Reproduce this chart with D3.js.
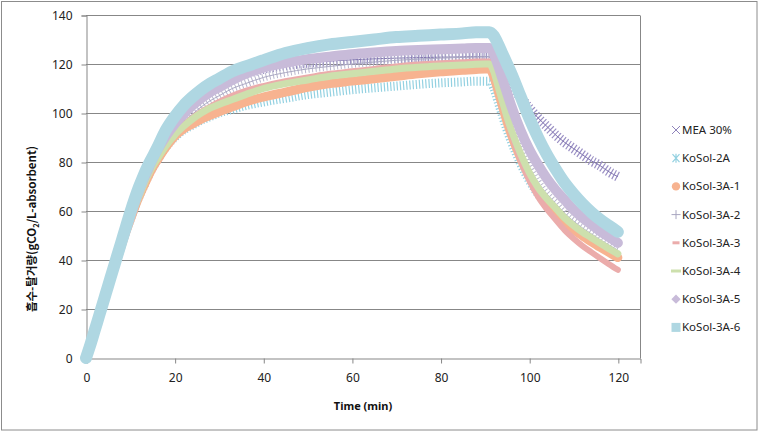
<!DOCTYPE html>
<html><head><meta charset="utf-8">
<script src="https://cdn.jsdelivr.net/npm/d3@7"></script>
<style>body{margin:0;background:#fff}svg{display:block}text{font-family:"Noto Sans","DejaVu Sans",sans-serif}</style>
</head><body><svg id="c" width="759" height="432"></svg>
<script>
const times = [0,1,2,3,4,5,6,7,8,9,10,11,12,13,14,15,16,18,20,22,24,26,28,30,33,36,40,45,50,55,60,65,70,75,80,85,88,90,
  91,92,93,94,95,96,98,100,102,104,106,108,110,112,114,116,118,120];
const mea30 = [0,5.5,11.5,17.5,23.5,29.5,35.5,41.5,47,52.5,58,63,68,72.5,77,81,84.5,90.5,95.5,100,104,107,109.5,111.5,114,116,118,119.5,120.5,121.2,121.7,122.1,122.4,122.6,122.8,122.9,123,123,
  123,121.5,119,116.5,114,111.5,106.5,102,98,94.5,91,88,85.5,83,80.5,78.5,76,74];
const kosol2A = [0,5.5,11.5,17.5,23.5,29.5,35,40.5,46,51.5,56.5,61.5,66,70,74,77.5,80.5,86,90,93,95,97,98.5,100,101.5,103,104.5,106,107.5,108.5,109.5,110.3,111,111.7,112.3,112.7,113,113,
  113,110.2,104.5,98.8,93.1,88.2,79.6,72.5,66.9,62.6,59,55.5,52.7,50.2,48,45.9,43.9,42];
const kosol3A1 = [0,5.5,11.5,17.5,23.5,29.5,35,40.5,46,51.5,56.5,61.5,66,70,74,77.5,80.5,86,90.5,93.5,95.5,97.5,99,100.5,102.5,104.5,106.5,108.5,110.5,112,113,114,115,116,116.8,117.4,117.8,118,
  118,114.9,108.8,102.6,96.4,91.1,81.8,74.1,68,63.3,59.5,55.6,52.5,49.9,47.5,45.2,43.1,41];
const kosol3A2 = [0,5.5,11.5,17.5,23.5,29.5,35.5,41,46.5,52,57,62,67,71.5,75.5,79,82.5,88,93,96.5,99.5,102.5,105,107,110,112,114.5,116.5,118,119,120,120.8,121.5,122,122.4,122.7,122.9,123,
  123,119.8,113.5,107.2,100.9,95.4,85.9,78,71.7,66.9,63,59,55.9,53.1,50.7,48.3,46.1,44];
const kosol3A3 = [0,5.5,11.5,17.5,23.5,29.5,35,40.5,46,51.5,56.5,61.5,66.5,71,75,78.5,81.5,87,91.5,95,98,100.5,102.5,104.5,107,109,111,113,114.5,116,117,118,119,119.8,120.3,120.7,121,121,
  121,117.6,110.8,104,97.2,91.3,81.1,72.6,65.8,60.7,56.4,52.2,48.8,45.8,43.2,40.7,38.3,36];
const kosol3A4 = [0,5.5,11.5,17.5,23.5,29.5,35,40.5,46,51.5,56.5,61.5,66,70.5,74.5,78,81,86.5,91,94.5,97.5,100,102,103.5,105.5,107.5,110,112,113.5,115,116,117,118,118.7,119.2,119.6,119.9,120,
  120,116.9,110.7,104.5,98.3,92.9,83.6,75.8,69.6,65,61.1,57.2,54.1,51.4,49.1,46.8,44.6,42.5];
const kosol3A5 = [0,5.5,11.5,17.5,23.5,29.5,35.5,41.5,47,52.5,58,63.5,68.5,73,77,81,84.5,90.5,95.5,99.5,103,106,108.5,110.5,113.5,116,118.5,120.5,122,123,124,124.7,125.3,125.7,126,126.3,126.5,126.5,
  126.5,124.1,119.3,113.8,108.2,102.7,93.1,85.2,78.8,73.2,68.5,64.5,60.5,57.3,54.5,51.8,49.4,47];
const kosol3A6 = [0,5.5,11.5,17.5,23.5,29.5,35.5,41.5,47.5,53.5,59.5,65,70,74.5,78.5,82,85.5,93,98.5,103,106.5,109.5,112,114,117,119,121.5,124.5,126.5,128,129,130,131,131.5,132,132.5,133,133,
  133,131.5,128,124,120,116,107,98,90,83,77,71.5,67,63,59.5,56.5,54,51.5];
const seriesNames = ["MEA 30%","KoSol-2A","KoSol-3A-1","KoSol-3A-2","KoSol-3A-3","KoSol-3A-4","KoSol-3A-5","KoSol-3A-6"];
const seriesValues = [mea30,kosol2A,kosol3A1,kosol3A2,kosol3A3,kosol3A4,kosol3A5,kosol3A6];
const xTicks = [0,20,40,60,80,100,120];
const yTicks = [0,20,40,60,80,100,120,140];
const xTitle = "Time (min)";

const styles = [
  {color:"#9a8fc4", w:10, dash:"1.2,2.2", center:"#8276b0", mk:"x"},
  {color:"#93d1e1", w:9, dash:"1.2,2", center:null, mk:"ast"},
  {color:"#f7b390", w:9, dash:null, center:null, mk:"circle"},
  {color:"#b8b6cd", w:8, dash:"1,2.6", center:"#aba9c3", mk:"plus"},
  {color:"#ebacab", w:6, dash:null, center:null, mk:"dashS"},
  {color:"#cde0ad", w:7, dash:null, center:null, mk:"dashL"},
  {color:"#c8bbd9", w:10, dash:null, center:null, mk:"diamond"},
  {color:"#afd7e2", w:12, dash:null, center:null, mk:"square"}
];

const svg = d3.select("#c");
const m = {l:86, r:640, t:15, b:358};
const x = d3.scaleLinear().domain([0,125]).range([m.l,m.r]);
const y = d3.scaleLinear().domain([0,140]).range([m.b,m.t]);
const grid = "#878787";

svg.append("rect").attr("x",1.5).attr("y",1.5).attr("width",755.5).attr("height",428.5)
  .attr("fill","#fff").attr("stroke","#8c8c8c");

svg.append("g").selectAll("line").data(yTicks.filter(d=>d>0)).join("line")
  .attr("x1",m.l).attr("x2",m.r).attr("y1",d=>Math.round(y(d))+0.5).attr("y2",d=>Math.round(y(d))+0.5)
  .attr("stroke",grid).attr("stroke-width",1);
svg.append("line").attr("x1",m.r+0.5).attr("x2",m.r+0.5).attr("y1",Math.round(y(140))+0.5).attr("y2",m.b+0.5)
  .attr("stroke",grid);

const yAxis = d3.axisLeft(y).tickValues(yTicks).tickSize(5).tickPadding(9);
const gy = svg.append("g").attr("transform",`translate(${m.l+0.5},0.5)`).call(yAxis);
const xAxis = d3.axisBottom(x).tickValues(xTicks).tickSize(5).tickPadding(10);
const gx = svg.append("g").attr("transform",`translate(0.5,${m.b+0.5})`).call(xAxis);
[gx,gy].forEach(g=>{
  g.select(".domain").attr("stroke",grid);
  g.selectAll(".tick line").attr("stroke",grid);
  g.selectAll(".tick text").attr("fill","#222").attr("font-size","12px");
});

const line = d3.line().x((d,i)=>x(times[i])).y(d=>y(d)).curve(d3.curveMonotoneX);
const gs = svg.append("g");
seriesValues.forEach((vals,k)=>{
  const s = styles[k];
  const p = gs.append("path").attr("d",line(vals)).attr("fill","none")
    .attr("stroke",s.color).attr("stroke-width",s.w)
    .attr("stroke-linejoin","round").attr("stroke-linecap",s.dash?"butt":"round");
  if(s.dash) p.attr("stroke-dasharray",s.dash);
  if(s.center) gs.append("path").attr("d",line(vals)).attr("fill","none")
    .attr("stroke",s.center).attr("stroke-width",1);
});

const lg = svg.append("g");
seriesNames.forEach((name,k)=>{
  const s = styles[k];
  const cy = 130 + k*28.2, cx = 676;
  const g = lg.append("g").attr("transform",`translate(${cx},${cy})`);
  if(s.mk==="x"){
    g.append("path").attr("d","M-4,-4L4,4M-4,4L4,-4").attr("stroke","#8f83bb").attr("stroke-width",1);
  } else if(s.mk==="ast"){
    g.append("path").attr("d","M-3.5,-4L3.5,4M-3.5,4L3.5,-4M0,-4.5L0,4.5").attr("stroke",s.color).attr("stroke-width",1.2);
  } else if(s.mk==="circle"){
    g.append("circle").attr("r",4.2).attr("fill",s.color);
  } else if(s.mk==="plus"){
    g.append("path").attr("d","M-4.5,0L4.5,0M0,-4.5L0,4.5").attr("stroke","#a8a6c0").attr("stroke-width",1);
  } else if(s.mk==="dashS"){
    g.append("rect").attr("x",-3.5).attr("y",-1.5).attr("width",7).attr("height",3).attr("fill",s.color);
  } else if(s.mk==="dashL"){
    g.append("rect").attr("x",-5).attr("y",-1.5).attr("width",10).attr("height",3).attr("fill",s.color);
  } else if(s.mk==="diamond"){
    g.append("path").attr("d",d3.symbol(d3.symbolDiamond2,55)()).attr("fill",s.color);
  } else if(s.mk==="square"){
    g.append("rect").attr("x",-4.5).attr("y",-4.5).attr("width",9).attr("height",9).attr("fill",s.color);
  }
  g.append("text").attr("x",6).attr("y",4).attr("font-size","11.5px").attr("fill","#222").text(name);
});

svg.append("text").attr("x",363).attr("y",410).attr("text-anchor","middle")
  .attr("font-size","11px").attr("font-weight","bold").attr("fill","#111").text(xTitle);
const yt = svg.append("text").attr("transform","translate(36,229) rotate(-90)").attr("text-anchor","middle")
  .attr("font-size","11.5px").attr("font-weight","bold").attr("fill","#111")
  .style("font-family",'"Noto Sans CJK KR","Noto Sans",sans-serif');
yt.append("tspan").text("흡수-탈거량(gCO");
yt.append("tspan").attr("font-size","7.5px").attr("dy","3").text("2");
yt.append("tspan").attr("dy","-3").text("/L-absorbent)");
</script></body></html>
